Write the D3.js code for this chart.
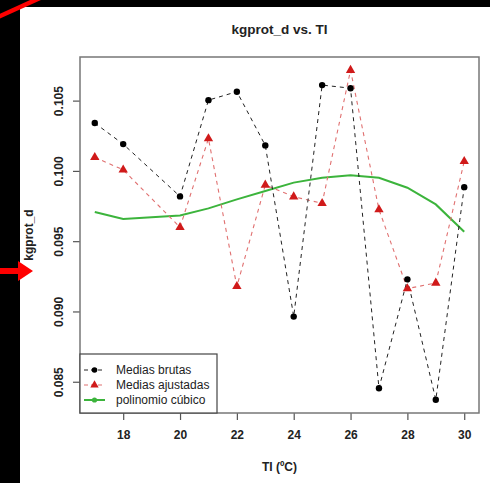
<!DOCTYPE html>
<html><head><meta charset="utf-8">
<script src="https://cdn.jsdelivr.net/npm/d3@7"></script>
<style>html,body{margin:0;padding:0;background:#000;}svg{display:block;}</style>
</head><body>
<script>
const temps = [17,18,20,21,22,23,24,25,26,27,28,29,30];
const mediasBrutas = [0.10344,0.10194,0.09822,0.10507,0.10567,0.10185,0.08967,0.10614,0.10592,0.08457,0.09232,0.08375,0.09888];
const mediasAjustadas = [0.10100,0.10011,0.09602,0.10233,0.09182,0.09903,0.09820,0.09773,0.10720,0.09728,0.09166,0.09206,0.10071];
const polinomio = [0.09711,0.09661,0.09687,0.09737,0.09801,0.09861,0.09920,0.09955,0.09972,0.09955,0.09884,0.09765,0.09571];
const xTicks = [18,20,22,24,26,28,30];
const yTicks = [0.085,0.090,0.095,0.100,0.105];
const legendLabels = ["Medias brutas","Medias ajustadas","polinomio cúbico"];
const titleText = "kgprot_d vs. TI";
const xLabel = "TI (ºC)";
const yLabel = "kgprot_d";

const W = 490, H = 483;
const svg = d3.select("body").append("svg").attr("width", W).attr("height", H);
svg.append("rect").attr("width", W).attr("height", H).attr("fill", "#000");
// white photographed panel
svg.append("rect").attr("x", 20).attr("y", 7).attr("width", 470).attr("height", 476).attr("fill", "#fff");
// red annotation line top-left
svg.append("line").attr("x1", -2).attr("y1", 17).attr("x2", 40).attr("y2", -2)
  .attr("stroke", "#f00").attr("stroke-width", 4.5);
// red arrow at left
svg.append("path").attr("d", "M0,268 L18,268 L18,261 L33,271 L18,281 L18,274 L0,274 Z")
  .attr("fill", "#f00");

const ff = "Liberation Sans, Arial, Helvetica, sans-serif";
const xmin = d3.min(temps), xmax = d3.max(temps);
const allY = mediasBrutas.concat(mediasAjustadas, polinomio);
const ymin = d3.min(allY), ymax = d3.max(allY);
const xpad = (xmax - xmin) * 0.04, ypad = (ymax - ymin) * 0.04;
const L = 80, R = 479, T = 57, B = 413;
const x = d3.scaleLinear().domain([xmin - xpad, xmax + xpad]).range([L, R]);
const y = d3.scaleLinear().domain([ymin - ypad, ymax + ypad]).range([B, T]);

// title
svg.append("text").attr("x", (L + R) / 2).attr("y", 34).attr("text-anchor", "middle")
  .attr("font-family", ff).attr("font-weight", "bold").attr("font-size", 13.5).attr("fill", "#222").text(titleText);

// axes
const xAxis = svg.append("g").attr("transform", `translate(0,${B})`)
  .call(d3.axisBottom(x).tickValues(xTicks).tickFormat(d3.format("d")).tickSize(7).tickPadding(10));
const yAxis = svg.append("g").attr("transform", `translate(${L},0)`)
  .call(d3.axisLeft(y).tickValues(yTicks).tickFormat(d3.format(".3f")).tickSize(7));
[xAxis, yAxis].forEach(g => {
  g.select(".domain").remove();
  g.selectAll("line").attr("stroke", "#555").attr("stroke-width", 1.2);
  g.selectAll("text").attr("font-family", ff).attr("font-weight", "bold").attr("font-size", 12).attr("fill", "#222");
});
xAxis.selectAll("text").attr("dy", "0.71em");
yAxis.selectAll("text")
  .attr("transform", d => `translate(-21,${y(d)}) rotate(-90)`)
  .attr("x", 0).attr("y", 0).attr("dy", "0.35em").attr("text-anchor", "middle");
yAxis.selectAll(".tick").attr("transform", null);
yAxis.selectAll(".tick line").attr("y1", d => y(d)).attr("y2", d => y(d));

// axis titles
svg.append("text").attr("x", (L + R) / 2).attr("y", 471).attr("text-anchor", "middle")
  .attr("font-family", ff).attr("font-weight", "bold").attr("font-size", 12).attr("fill", "#222").text(xLabel);
svg.append("text").attr("transform", `translate(33,${(T + B) / 2}) rotate(-90)`).attr("text-anchor", "middle")
  .attr("font-family", ff).attr("font-weight", "bold").attr("font-size", 12).attr("fill", "#222").text(yLabel);

// lines
const line = vals => d3.line().x((d, i) => x(temps[i])).y(d => y(d))(vals);
svg.append("path").attr("d", line(polinomio)).attr("fill", "none").attr("stroke", "#3cb43c").attr("stroke-width", 2);
svg.append("path").attr("d", line(mediasAjustadas)).attr("fill", "none").attr("stroke", "#e07070")
  .attr("stroke-width", 1.1).attr("stroke-dasharray", "4,4");
svg.append("path").attr("d", line(mediasBrutas)).attr("fill", "none").attr("stroke", "#222")
  .attr("stroke-width", 1).attr("stroke-dasharray", "4,4");

// markers
const tri = d3.symbol().type(d3.symbolTriangle).size(38);
svg.selectAll(".tri").data(mediasAjustadas).enter().append("path")
  .attr("d", tri).attr("transform", (d, i) => `translate(${x(temps[i])},${y(d)})`).attr("fill", "#d01a1a");
svg.selectAll(".dot").data(mediasBrutas).enter().append("circle")
  .attr("cx", (d, i) => x(temps[i])).attr("cy", d => y(d)).attr("r", 3.2).attr("fill", "#000");

// plot box
svg.append("rect").attr("x", L).attr("y", T).attr("width", R - L).attr("height", B - T)
  .attr("fill", "none").attr("stroke", "#777").attr("stroke-width", 1.5);

// legend
const lg = svg.append("g");
lg.append("rect").attr("x", L).attr("y", 354).attr("width", 137).attr("height", B - 354)
  .attr("fill", "#fff").attr("stroke", "#444").attr("stroke-width", 1.2);
const lgStyles = [
  {stroke: "#222", dash: "4,3", w: 1, mark: "dot"},
  {stroke: "#e07070", dash: "4,3", w: 1.1, mark: "tri"},
  {stroke: "#3cb43c", dash: null, w: 2, mark: "green"}
];
legendLabels.forEach((lab, i) => {
  const yy = 370 + i * 15;
  const s = lgStyles[i];
  lg.append("line").attr("x1", 84).attr("x2", 105).attr("y1", yy).attr("y2", yy)
    .attr("stroke", s.stroke).attr("stroke-width", s.w).attr("stroke-dasharray", s.dash);
  if (s.mark === "dot") lg.append("circle").attr("cx", 94.5).attr("cy", yy).attr("r", 2.8).attr("fill", "#000");
  else if (s.mark === "tri") lg.append("path").attr("d", d3.symbol().type(d3.symbolTriangle).size(30)).attr("transform", `translate(94.5,${yy})`).attr("fill", "#d01a1a");
  else lg.append("circle").attr("cx", 94.5).attr("cy", yy).attr("r", 2.6).attr("fill", "#3cb43c");
  lg.append("text").attr("x", 116).attr("y", yy).attr("dy", "0.35em")
    .attr("font-family", ff).attr("font-size", 12).attr("fill", "#222").text(lab);
});
</script>
</body></html>
